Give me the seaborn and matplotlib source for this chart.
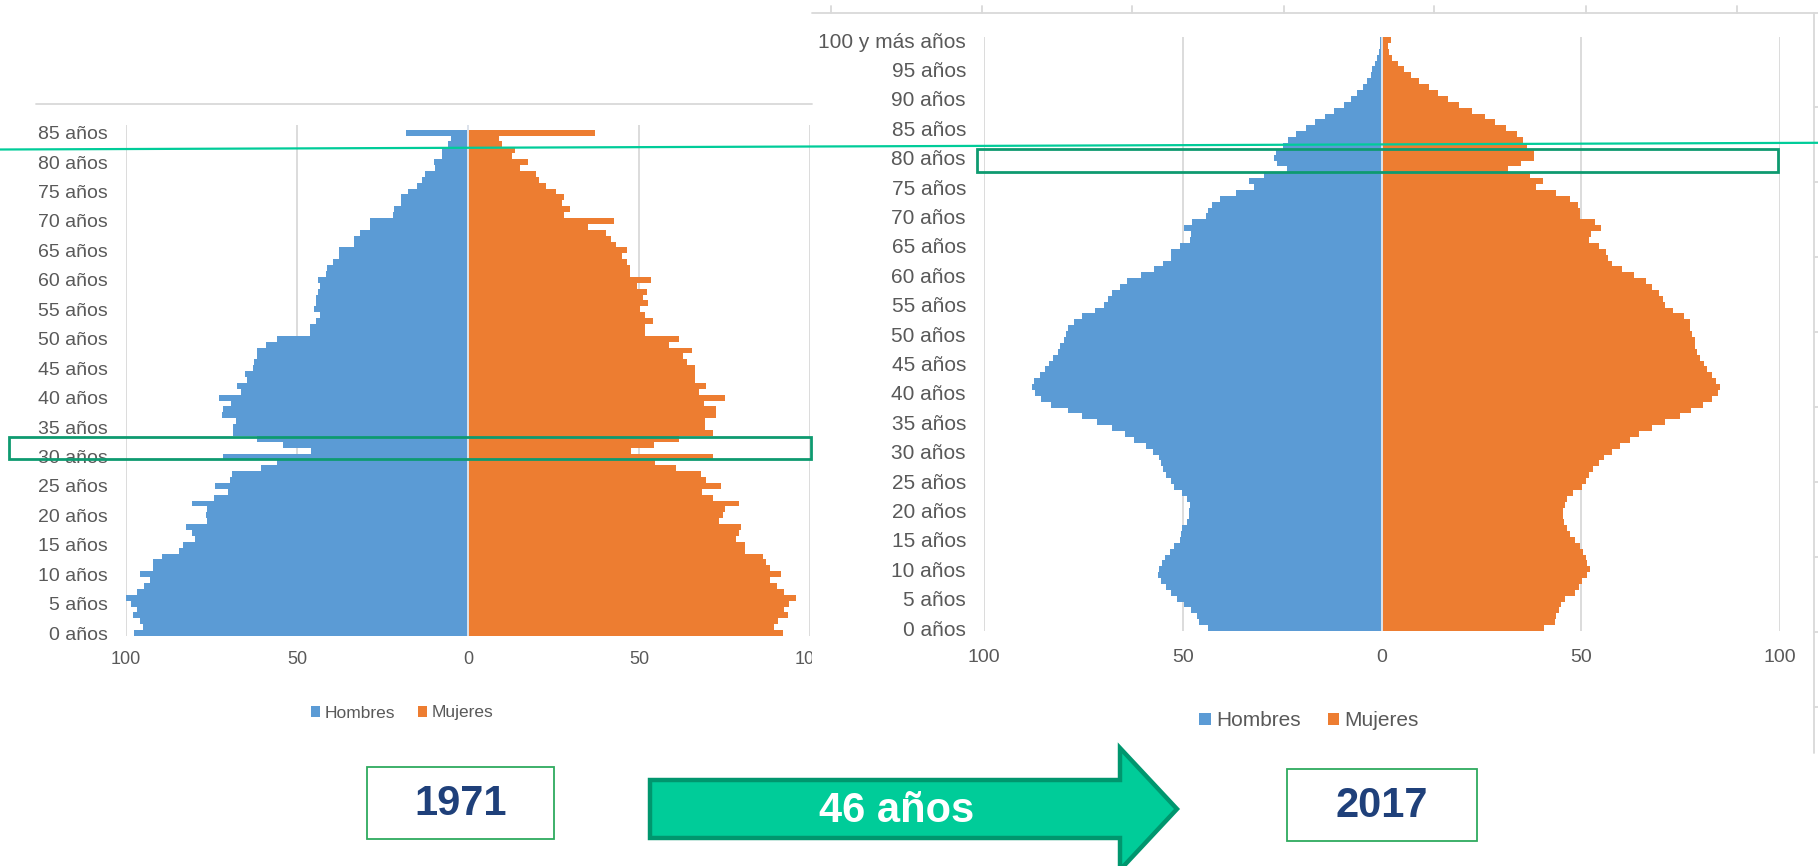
import matplotlib
matplotlib.use("Agg")
import matplotlib.pyplot as plt
from matplotlib.patches import Rectangle, Polygon
from matplotlib.ticker import FuncFormatter
import seaborn as sns
import pandas as pd

# 1971 pyramid, ages 0..85 (values per sex)
edades_1971 = list(range(0, 86))
hombres_1971 = [97.8, 94.9, 95.8, 97.9, 96.9, 98.6, 100.0, 96.8, 94.8, 93.1,
                95.8, 92.0, 92.0, 89.6, 84.4, 83.4, 79.7, 80.6, 82.4, 76.4,
                76.7, 76.4, 80.6, 74.3, 70.1, 73.9, 69.7, 69.1, 60.6, 55.9,
                71.5, 45.9, 54.0, 61.6, 68.7, 68.7, 67.8, 72.0, 71.5, 69.4,
                72.9, 66.4, 67.6, 64.5, 65.3, 63.0, 62.5, 61.6, 61.6, 59.1,
                55.9, 46.3, 46.3, 44.3, 43.4, 44.9, 44.4, 44.4, 44.0, 43.4,
                43.9, 41.5, 41.1, 39.5, 37.8, 37.8, 33.4, 33.4, 31.5, 28.7,
                28.7, 22.0, 21.6, 19.6, 19.6, 17.4, 14.9, 13.5, 12.5, 9.6,
                10.0, 7.6, 7.6, 5.9, 5.0, 18.2]
mujeres_1971 = [92.0, 89.6, 90.6, 93.5, 92.5, 94.0, 95.9, 92.5, 90.3, 88.3,
                91.5, 88.3, 87.2, 86.4, 81.1, 81.1, 78.3, 79.2, 79.8, 73.5,
                74.5, 75.0, 79.3, 71.7, 68.3, 74.1, 69.7, 68.2, 60.8, 54.6,
                71.7, 47.6, 54.5, 61.7, 71.7, 69.4, 69.4, 72.6, 72.6, 68.9,
                75.0, 67.4, 69.7, 66.5, 66.5, 66.5, 64.1, 63.0, 65.5, 58.9,
                61.7, 51.7, 51.7, 54.1, 51.7, 50.4, 52.6, 51.3, 52.2, 49.4,
                53.6, 47.5, 47.5, 46.5, 45.1, 46.5, 43.2, 41.7, 40.4, 35.1,
                42.7, 28.1, 29.8, 27.5, 28.0, 25.7, 22.8, 20.8, 19.9, 15.2,
                17.5, 12.8, 13.6, 9.8, 9.0, 37.0]

# 2017 pyramid, ages 0..100
edades_2017 = list(range(0, 101))
hombres_2017 = [43.6, 46.0, 46.4, 48.1, 49.7, 51.6, 53.0, 54.2, 55.5, 56.2,
                56.1, 55.2, 54.4, 53.3, 52.3, 50.8, 50.6, 50.3, 48.9, 48.5,
                48.5, 48.3, 48.9, 50.3, 52.3, 53.1, 54.2, 55.0, 55.5, 56.1,
                57.5, 59.4, 62.2, 64.5, 67.8, 71.7, 75.5, 78.8, 83.1, 85.6,
                87.3, 87.9, 87.5, 86.0, 84.7, 83.7, 82.6, 81.4, 80.9, 79.9,
                79.3, 78.8, 77.4, 75.5, 72.2, 69.8, 68.8, 67.9, 65.9, 64.0,
                60.6, 57.4, 55.0, 53.1, 53.1, 50.7, 48.3, 48.1, 49.8, 47.8,
                44.1, 43.6, 42.6, 40.6, 36.8, 32.1, 33.3, 29.7, 23.9, 26.4,
                27.2, 26.7, 24.9, 23.5, 21.5, 19.1, 16.8, 14.3, 12.0, 9.5,
                7.7, 6.2, 4.8, 3.8, 2.8, 2.4, 1.7, 1.3, 0.8, 0.6, 0.4]
mujeres_2017 = [40.7, 43.5, 43.6, 44.5, 45.1, 46.0, 48.4, 49.5, 50.2, 51.6,
                52.3, 51.6, 51.3, 50.6, 49.7, 48.5, 47.2, 46.4, 45.8, 45.6,
                45.6, 46.0, 46.4, 48.1, 50.3, 51.3, 52.0, 53.1, 54.5, 55.9,
                57.9, 59.8, 62.2, 64.5, 67.9, 71.1, 74.9, 77.7, 80.6, 82.9,
                84.3, 84.8, 84.0, 82.9, 81.6, 80.8, 79.9, 79.1, 78.7, 78.7,
                78.0, 77.3, 77.3, 75.8, 73.1, 71.2, 70.7, 69.7, 67.8, 66.3,
                63.4, 60.2, 57.9, 56.9, 56.3, 54.4, 52.1, 52.4, 54.9, 53.5,
                49.7, 49.7, 49.2, 47.2, 43.6, 38.8, 40.5, 37.3, 31.7, 34.9,
                38.3, 38.3, 36.5, 35.5, 34.0, 31.1, 28.4, 25.9, 22.7, 19.4,
                16.5, 14.1, 11.7, 9.3, 7.4, 5.5, 4.1, 2.6, 1.8, 1.5, 2.2]

sexos = ["Hombres", "Mujeres"]
x_ticks = [-100, -50, 0, 50, 100]
BLUE = "#5B9BD5"
ORANGE = "#ED7D31"
GRID = "#D9D9D9"
TXT = "#595959"


def etiqueta(a):
    return "100 y más años" if a == 100 else f"{a} años"


def tabla(edades, hombres, mujeres):
    lab = [etiqueta(a) for a in edades]
    df = pd.DataFrame({
        "edad": lab * 2,
        "sexo": ["Hombres"] * len(lab) + ["Mujeres"] * len(lab),
        "valor": [-v for v in hombres] + list(mujeres),
    })
    return df, lab


def piramide(ax, edades, hombres, mujeres, fs_y, fs_x, pad_x, top_extra):
    df, lab = tabla(edades, hombres, mujeres)
    order = lab[::-1]  # oldest on top
    sns.barplot(data=df, x="valor", y="edad", hue="sexo", order=order,
                hue_order=sexos, palette=[BLUE, ORANGE], dodge=False,
                width=1.0, orient="h", errorbar=None, saturation=1,
                linewidth=0, ax=ax)
    ax.set_xlim(-100, 100)
    ax.set_ylim(len(order) - 0.5, -0.5 - top_extra)
    ax.set_xticks(x_ticks)
    ax.xaxis.set_major_formatter(FuncFormatter(lambda v, p: f"{abs(v):.0f}"))
    pos = [order.index(l) for l, a in zip(lab, edades) if a % 5 == 0]
    ax.set_yticks(pos, [order[p] for p in pos])
    ax.set_xlabel("")
    ax.set_ylabel("")
    ax.grid(axis="x", color=GRID, lw=1.3)
    ax.grid(axis="y", visible=False)
    ax.set_axisbelow(True)
    ax.axvline(0, color="#DDE3EC", lw=1.4, zorder=5)
    for s in ax.spines.values():
        s.set_visible(False)
    ax.tick_params(axis="y", length=0, labelsize=fs_y, labelcolor=TXT, pad=13)
    ax.tick_params(axis="x", length=0, labelsize=fs_x, labelcolor=TXT, pad=pad_x)
    if ax.get_legend() is not None:
        ax.get_legend().remove()


sns.set_style("white")
plt.rcParams["font.family"] = ["Liberation Sans", "DejaVu Sans"]

W, H = 1818, 866
fig = plt.figure(figsize=(W / 100, H / 100), dpi=100)

# left chart (1971)
ax1 = fig.add_axes([126 / W, 1 - 636 / H, 684 / W, 511 / H], zorder=0)
piramide(ax1, edades_1971, hombres_1971, mujeres_1971, 14, 13, 11, 0.8)
h, l = ax1.get_legend_handles_labels()

# white sheet of the second screenshot
fig.add_artist(Rectangle((812 / W, 0), 1 - 812 / W, 1, transform=fig.transFigure,
                         facecolor="white", edgecolor="none", zorder=0.5))

# right chart (2017)
ax2 = fig.add_axes([984 / W, 1 - 631 / H, 796 / W, 594.5 / H], zorder=1)
piramide(ax2, edades_2017, hombres_2017, mujeres_2017, 15, 14, 13, 0.1)

leg_kw = dict(loc="center", ncol=2, frameon=False, handlelength=0.55,
              handleheight=0.55, handletextpad=0.25, columnspacing=1.3,
              labelcolor=TXT, bbox_transform=fig.transFigure)
ax1.legend(h, l, bbox_to_anchor=(402 / W, 1 - 713 / H), fontsize=12.5, **leg_kw)
ax2.legend(h, l, bbox_to_anchor=(1309 / W, 1 - 721 / H), fontsize=15, **leg_kw)

# overlay in pixel coordinates
ov = fig.add_axes([0, 0, 1, 1], zorder=3)
ov.set_xlim(0, W)
ov.set_ylim(H, 0)
ov.axis("off")
ov.patch.set_alpha(0)

ov.plot([36, 812], [104, 104], color=GRID, lw=1.3)
ov.plot([812, W], [12.7, 12.7], color=GRID, lw=1.3)
for tx in [831, 982, 1132, 1284, 1434, 1586, 1737]:
    ov.plot([tx, tx], [6, 12.7], color=GRID, lw=1.3)
ov.plot([1814, 1814], [12.7, 753], color=GRID, lw=1.3)
for ty in range(107, 753, 75):
    ov.plot([1814, 1818], [ty, ty], color=GRID, lw=1.3)

ov.add_patch(Rectangle((9, 437), 802, 22, fill=False, ec="#0E9A70", lw=2))
ov.add_patch(Rectangle((977, 149), 801, 23, fill=False, ec="#0E9A70", lw=2))
ov.plot([0, W], [149.5, 142.8], color="#00CC99", lw=1.6)

for (x0, y0, w, hgt, txt) in [(367, 767, 187, 72, "1971"), (1287, 769, 190, 72, "2017")]:
    ov.add_patch(Rectangle((x0, y0), w, hgt, fc="white", ec="#2EAA5E", lw=1.3))
    ov.text(x0 + w / 2, y0 + hgt / 2 + 1, txt, ha="center", va="center",
            fontsize=30, fontweight="bold", color="#1F407A")

ov.add_patch(Polygon([(650, 780), (1120, 780), (1120, 748), (1177, 809),
                      (1120, 870), (1120, 838), (650, 838)],
                     closed=True, fc="#00CC99", ec="#00966E", lw=3.2,
                     joinstyle="miter"))
ov.text(897, 811, "46 años", ha="center", va="center", fontsize=30,
        fontweight="bold", color="white")

fig.savefig("out.png", dpi=100)
